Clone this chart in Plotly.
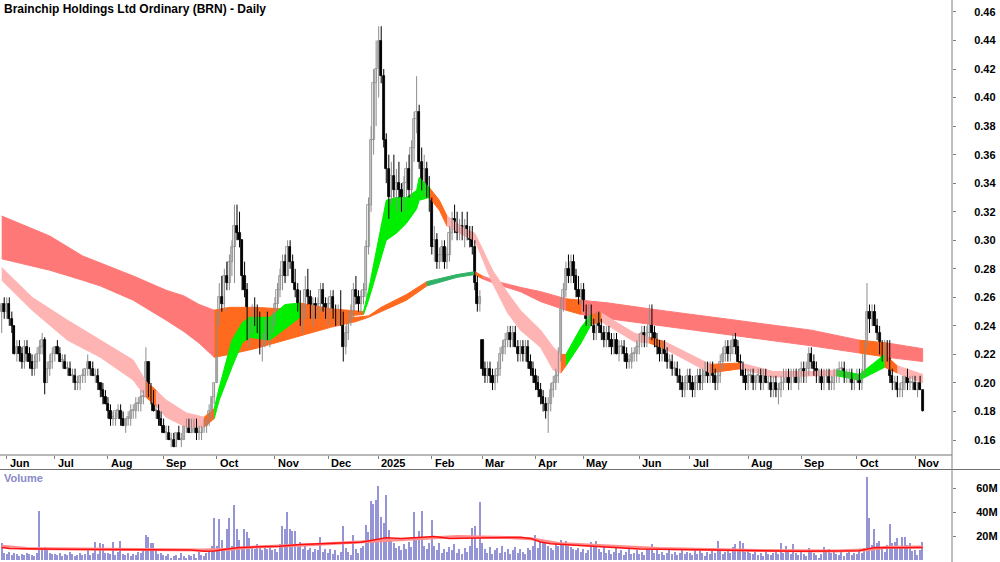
import numpy as np
import plotly.graph_objects as go

TITLE = "Brainchip Holdings Ltd Ordinary (BRN) - Daily"
MONTH_LABELS = ["Jun", "Jul", "Aug", "Sep", "Oct", "Nov", "Dec", "2025", "Feb", "Mar",
                "Apr", "May", "Jun", "Jul", "Aug", "Sep", "Oct", "Nov"]
# trading bars per month (first entry = last bars of May 2024)
MONTH_DAYS = [2, 19, 21, 22, 21, 23, 21, 20, 21, 20, 21, 19, 22, 20, 23, 21, 22, 23, 4]
PRICE_TICKS = [0.16, 0.18, 0.20, 0.22, 0.24, 0.26, 0.28, 0.30, 0.32, 0.34, 0.36, 0.38, 0.40, 0.42, 0.44, 0.46]
VOLUME_TICKS = [20, 40, 60]
VOLUME_TICK_TEXT = ["20M", "40M", "60M"]

# daily bars (open, high, low, close) in cents
may24 = [(25,25.5,23.5,25.5),(25.5,26,24.5,25)]
jun24 = [(25,26,24.5,25.5),(25.5,26,24,24.5),(24.5,25,23.5,24),(24,24,22,22),(22,23,21.5,22.5),
         (22.5,23,21.5,22),(22,22.5,21,21.5),(21.5,23,21,22.5),(22.5,23,21.5,22),(22,22.5,21,21.5),
         (21.5,22,20.5,21),(21,22,20.5,21.5),(21.5,22.5,21,22),(22,23,21.5,22.5),(22.5,23.5,22,23),
         (23,23.2,19.2,20),(20,21.5,20,21),(21,22,20.5,21.5),(21.5,22.5,21,22)]
jul24 = [(22,22.5,21.5,22.5),(22.5,23,22,22),(22,22.5,21.5,21.5),(21.5,22,21,21.5),(21.5,22,21,21),
         (21,21.5,20.5,21),(21,21.5,20.5,20.5),(20.5,21,20,20.5),(20.5,21,19.5,20),(20,20.5,19.5,20),
         (20,20.5,19.5,20.5),(20.5,21,20,20.5),(20.5,21,20,21),(21,22,20.5,21.5),(21.5,21.5,20.5,21),
         (21,21.5,20.5,20.5),(20.5,21,20,20.5),(20.5,21,19.5,20),(20,20,19,19.5),(19.5,20,18.5,19),
         (19,19.5,18.5,18.5)]
aug24 = [(18.5,19,17.5,18),(18,18.5,17,17.5),(17.5,18,17,17.5),(17.5,18,17,18),(18,18.5,17.5,18),
         (18,18.5,17,17.5),(17.5,18,17,17),(17,17.5,16.5,17.5),(17.5,18,17,17.5),(17.5,18.5,17,18),
         (18,18.5,17.5,18),(18,19,17.5,18.5),(18.5,19,18,18.5),(18.5,19.5,18,19),(19,19.5,18.5,19),
         (19,22.5,19,21.5),(21.5,21.5,19,19.5),(19.5,20,18.5,19),(19,19.5,18,18),(18,18.5,17.5,18),
         (18,18.5,17,17.5),(17.5,18,17,17)]
sep24 = [(17,17.5,16.5,16.5),(16.5,17,16,16.5),(16.5,17,16,16),(16,16.5,15.5,16),(16,16.5,15.5,15.5),
         (15.5,16.5,15.5,16.5),(16.5,17,16,16),(16,16.5,15.5,16),(16,17,16,17),(17,17.5,16.5,17),
         (17,17.5,16.5,16.5),(16.5,17.5,16.5,17),(17,17.5,16.5,17),(17,17.5,16,16.5),(16.5,17,16,16.5),
         (16.5,17,16,17),(17,17.5,16.5,17),(17,17.5,16.5,17.5),(17.5,18.5,17,18),(18,19,17.5,19),
         (19,20,18.5,20)]
oct24 = [(20,25,20,24.5),(24.5,27,24,26),(26,27.5,25,25.5),(25.5,28,25,27.5),(27.5,28.5,26.5,27),
         (27,29,26.5,28.5),(28.5,30,27.5,29.5),(29.5,32.5,27,31),(31,32.5,30,30.5),(30.5,32,29.5,30),
         (30,30,26.5,27.5),(27.5,28.5,26,26.5),(26.5,27,23,23.5),(23.5,24.5,22.5,24),(24,25.5,23.5,25),
         (25,26,24,24.5),(24.5,25.5,23.5,24),(24,25,22,22.5),(22.5,23.5,21.5,23),(23,24.5,22.5,24),
         (24,25,23,23.5),(23.5,24.5,22.5,24),(24,25,23.5,24.5)]
nov24 = [(24.5,26,24,25.5),(25.5,27,25,26.5),(26.5,28,26,27.5),(27.5,29,26.5,28.5),(28.5,29,27,27.5),
         (27.5,30,27.5,29.5),(29.5,30,28,28.5),(28.5,29,27,27),(27,28,26,26.5),(26.5,27,25,25.5),
         (25.5,26.5,24,24.5),(24.5,25.5,23.5,25),(25,27.5,24.5,26.5),(26.5,28,25.5,26),(26,26.5,24.5,25),
         (25,26,24,25.5),(25.5,26,24.5,25),(25,26,24.5,25.5),(25.5,27,25,26.5),(26.5,27,25,25.5),
         (25.5,26,24.5,25)]
dec24 = [(25,26,24,25.5),(25.5,26.5,25,26),(26,26.5,24.5,25),(25,25.5,24,24.5),(24.5,25.5,24,25),
         (25,26.5,24,24.5),(24.5,25,21.5,22.5),(22.5,24,22,23.5),(23.5,25,23,24.5),(24.5,25.5,24,25),
         (25,27,24.5,26.5),(26.5,27.5,25.5,26),(26,26.5,25,25.5),(25.5,26.5,25,26),(26,27,25.5,26.5),
         (26.5,30,26,29.5),(29.5,33,29,32.5),(32.5,38,32,37),(37,42,36,41),(41,44,38,42)]
jan25 = [(42,45,40,44),(44,45,41,41.5),(41.5,42,36.5,37),(37,37.5,34,35),(35,36,31.5,33),
         (33,35.5,32.5,34.5),(34.5,36,33,33.5),(33.5,35,32,34),(34,35.5,33,33.5),(33.5,34,32,32.5),
         (32.5,34.5,32,34),(34,35.5,33,35),(35,36,33,33.5),(33.5,37,33,36.5),(36.5,39,35.5,38.5),
         (38.5,41.5,37.5,39),(39,39.5,35,35.5),(35.5,36.5,33.5,34),(34,36,33,35),(35,35.5,33,33.5),
         (33.5,34.5,32,33)]
feb25 = [(33,33,29,29.5),(29.5,31,28.5,30),(30,30.5,28,28.5),(28.5,29.5,28,29),(29,30,28.5,29.5),
         (29.5,30,28,28.5),(28.5,29.5,28,29),(29,31,28.5,30.5),(30.5,32,30,31.5),(31.5,32.5,30.5,31),
         (31,32,30,30.5),(30.5,31.5,30,31),(31,32,30,30.5),(30.5,31.5,29.5,31),(31,32,30,30.5),
         (30.5,31,29.5,30),(30,31,29,29.5),(29.5,30,26.5,27),(27,27.5,25,25.5),(25.5,26.5,25,26)]
mar25 = [(23,23,20.5,21),(21,21.5,20,20.5),(20.5,21.5,20,21),(21,21.5,20,20.5),(20.5,21,19.5,20),
         (20,21,19.5,20.5),(20.5,21.5,20,21),(21,22.5,20.5,22),(22,23,21.5,22.5),(22.5,23.5,22,23),
         (23,24,22.5,23.5),(23.5,24,22.5,23),(23,24,22.5,23.5),(23.5,24,22.5,22.5),(22.5,23,21.5,22),
         (22,23,21.5,22.5),(22.5,23,21.5,22),(22,23,21.5,22.5),(22.5,23,21,21.5),(21.5,22,20.5,21),
         (21,21.5,20,20.5)]
apr25 = [(20.5,21,19.5,20),(20,20.5,19,19.5),(19.5,20,18.5,19),(19,19.5,18,18.5),(18.5,19,17.5,18),
         (18,19,16.5,18.5),(18.5,20,18,19.5),(19.5,20.5,19,20),(20,21,19.5,20.5),(20.5,22.5,20,22),
         (22,26,21.5,25.5),(25.5,27,25,26.5),(26.5,28.5,26,28),(28,29,27,27.5),(27.5,29,27,28.5),
         (28.5,29,27,27.5),(27.5,28,26,26.5),(26.5,27.5,25.5,26),(26,27,25.5,26.5)]
may25 = [(26.5,27,25,25),(25,25.5,24,24.5),(24.5,25.5,24,25),(25,25.5,24,24),(24,24.5,23,23.5),
         (23.5,25,23,24.5),(24.5,25,23.5,24),(24,24.5,23,23.5),(23.5,24,22.5,23),(23,24,22.5,23.5),
         (23.5,24,22.5,23),(23,23.5,22,22.5),(22.5,23.5,22,23),(23,23.5,22,22),(22,23,21.5,22.5),
         (22.5,23,22,22.5),(22.5,23,21.5,22),(22,22.5,21,21.5),(21.5,22,21,21.5),(21.5,22.5,21,22),
         (22,22.5,21.5,22),(22,23,21.5,22.5)]
jun25 = [(22.5,23.5,22,23),(23,24,22.5,23.5),(23.5,24,22.5,23),(23,24,22.5,23.5),(23.5,25.5,23,24.5),
         (24.5,25.5,23,23.5),(23.5,24,22.5,23),(23,23.5,22,22.5),(22.5,23,21.5,22),(22,23,21.5,22.5),
         (22.5,23,21.5,22),(22,22.5,21,21.5),(21.5,22,21,21.5),(21.5,22,20.5,21),(21,21.5,20.5,21),
         (21,21.5,20,20.5),(20.5,21,19.5,20),(20,20.5,19,19.5),(19.5,20.5,19,20),(20,21,19.5,20.5)]
jul25 = [(20.5,21,19.5,20),(20,20.5,19,19.5),(19.5,20.5,19,20),(20,21,19.5,20.5),(20.5,21,19.5,20),
         (20,21,19.5,20.5),(20.5,21.5,20,21),(21,21.5,20,20.5),(20.5,21.5,20,21),(21,21.5,20,20.5),
         (20.5,21,19.5,20),(20,21,19.5,20.5),(20.5,22,20,21.5),(21.5,22.5,21,22),(22,23,21.5,22.5),
         (22.5,23,21.5,22),(22,23,21.5,22.5),(22.5,23.5,22,23),(23,23.5,22,22.5),(22.5,23,21.5,21.5),
         (21.5,22,20.5,21),(21,21.5,20,20.5),(20.5,21,19.5,20)]
aug25 = [(20,21,19.5,20.5),(20.5,21,20,20.5),(20.5,21,19.5,20),(20,20.5,19.5,20.5),(20.5,21,20,20.5),
         (20.5,21,19.5,20),(20,21,19.5,20.5),(20.5,21,20,20),(20,20.5,19.5,20),(20,20.5,19,19.5),
         (19.5,20.5,19,20),(20,20.5,19,19.5),(19.5,20,18.5,19.5),(19.5,20.5,19,20),(20,21,19.5,20.5),
         (20.5,21,20,20.5),(20.5,21,19.5,20),(20,21,19.5,20.5),(20.5,21,20,20.5),(20.5,21,20,20),
         (20,21,19.5,20.5)]
sep25 = [(20.5,21.5,20,21),(21,21.5,20,20.5),(20.5,21.5,20,21),(21,22.5,20.5,22),(22,22.5,21,21.5),
         (21.5,22,20.5,21),(21,21.5,20,20.5),(20.5,21,20,20.5),(20.5,21,19.5,20),(20,21,19.5,20.5),
         (20.5,21,20,20.5),(20.5,21,19.5,20),(20,20.5,19.5,20),(20,21,19.5,20.5),(20.5,21,20,20.5),
         (20.5,21.5,20,21),(21,21.5,20.5,21),(21,21.5,20,20.5),(20.5,21,20,20.5),(20.5,21,20,20.5),
         (20.5,21,19.5,20),(20,20.5,19.5,20.5)]
oct25 = [(20.5,21,20,20.5),(20.5,21,19.5,20),(20,21,19.5,20.5),(20.5,23,20.5,22.5),(22.5,27,22.5,25),
         (25,25.5,23.5,24.5),(24.5,25.5,24,25),(25,25.5,24,24),(24,24.5,23,23.5),(23.5,24,22,22.5),
         (22.5,23,21.5,22),(22,23,21.5,22.5),(22.5,23,21.5,22),(22,23,20,20.5),(20.5,21,19.5,20),
         (20,20.5,19.5,20),(20,20.5,19,19.5),(19.5,20,19,19.5),(19.5,20.5,19,20),(20,20.5,19.5,20.5),
         (20.5,21,19.5,20),(20,20.5,19.5,20),(20,20.5,19.5,20)]
nov25 = [(20,20.5,19.5,19.5),(19.5,20,19,20),(20,20.5,19.5,19.5),(19.5,19.5,18,18)]

# daily volume, millions of shares
vol_may24 = [14, 6]
vol_jun24 = [5,7,4,6,5,3,5,4,6,5,4,3,6,41,8,11,9,6,5]
vol_jul24 = [5,4,6,3,5,4,7,5,3,4,6,4,5,8,4,6,15,5,14,13,6]
vol_aug24 = [6,5,15,4,7,16,5,4,6,3,5,4,7,6,9,21,19,14,14,8,5,6]
vol_sep24 = [4,3,5,2,3,4,2,6,3,2,4,3,5,2,7,4,3,6,8,12,35]
vol_oct24 = [12,34,17,10,26,35,12,46,26,17,10,26,23,18,11,9,13,10,8,12,9,11,8]
vol_nov24 = [9,7,13,28,26,40,26,24,24,11,15,9,12,8,10,7,9,8,19,7,9]
vol_dec24 = [6,9,5,8,4,7,28,10,7,4,21,9,6,10,12,29,23,49,47,50]
vol_jan25 = [62,36,31,54,25,16,14,10,12,8,13,9,15,11,40,18,24,41,12,9,14]
vol_feb25 = [33,12,8,14,6,9,7,11,8,13,6,9,5,10,7,12,27,28,10,48]
vol_mar25 = [14,9,6,11,5,8,10,6,12,7,9,5,8,11,6,9,7,5,10,8,12]
vol_apr25 = [21,10,17,16,17,12,10,8,14,12,17,13,16,12,11,9,8,10,7]
vol_may25 = [9,6,8,15,11,16,9,7,11,6,8,5,7,10,6,8,4,7,9,5,6,8]
vol_jun25 = [5,7,4,9,8,13,6,8,5,7,4,6,8,5,7,4,6,9,5,7]
vol_jul25 = [6,4,8,5,10,6,3,7,5,9,6,16,8,5,7,9,6,11,13,8,16,14,7]
vol_aug25 = [9,6,5,8,4,6,3,7,5,4,6,8,5,14,6,12,7,5,13,6,4]
vol_sep25 = [7,5,3,10,8,6,4,2,5,11,7,9,6,8,5,4,7,3,6,8,4,6]
vol_oct25 = [5,8,6,10,69,35,12.5,26,14,16,9,7,12.5,30,14,15,18,10,19,19,12.5,14,7.5]
vol_nov25 = [8,4,8,15]

# volume moving averages read at bar positions: (bar, millions)
VOL_MA_RED = [(0,10.5),(3,9.6),(23,8.9),(75,8.3),(80,7.2),(84,7.5),(90,9.4),(94,10.5),(102,11),
              (110,11.4),(118,13),(130,13.9),(142,14.7),(148,17),(152,18.6),(158,18),(165,18.6),
              (171,19.5),(177,18),(197,18.6),(205,19),(209,18),(213,15),(217,13.5),(229,12.2),
              (241,11),(252,9.2),(276,8.6),(292,8),(304,7.2),(316,7.2),(339,7.8),(342,9.2),
              (345,10.5),(355,10.3),(364,10.5)]
VOL_MA_PINK = [(0,11.5),(10,9.5),(30,9.2),(80,8.4),(90,9.0),(100,10.8),(120,12.5),(140,14.8),
               (150,16.2),(165,17.5),(180,19.5),(200,18.8),(210,17.5),(220,13.8),(240,11.5),
               (260,9.5),(300,8.0),(330,7.6),(342,8.6),(350,10.6),(364,10.8)]

# moving-average ribbons: (bar, upper, lower, colour of the stretch starting here), cents
LONG_RIBBON = [(0,31.7,28.7,"R"),(19,30.3,27.9,"R"),(32,28.9,27.2,"R"),(39,28.4,26.8,"R"),
               (52,27.5,25.8,"R"),(65,26.5,24.4,"R"),(72,26.1,23.6,"R"),(78,25.5,22.8,"R"),
               (84,25.1,21.8,"O"),(90,25.3,22.0,"O"),(100,25.3,22.4,"O"),(110,25.2,22.9,"O"),
               (120,25.0,23.4,"O"),(130,24.8,23.9,"O"),(140,24.6,24.3,"O"),(145,24.7,24.6,"O"),
               (150,25.3,25.0,"O"),(160,26.2,25.8,"O"),(168,27.1,26.8,"G"),(180,27.6,27.4,"G"),
               (187,27.8,27.6,"O"),(190,27.5,27.3,"R"),(196,27.1,26.9,"R"),(205,26.7,26.4,"R"),
               (213,26.4,25.7,"R"),(223,25.9,25.1,"O"),(229,25.8,24.8,"R"),(240,25.6,24.5,"R"),
               (260,25.1,24.0,"R"),(290,24.4,23.3,"R"),(320,23.7,22.6,"R"),(339,23.0,22.1,"O"),
               (350,22.8,21.8,"R"),(364,22.4,21.5,"R")]
SHORT_RIBBON = [(0,28.1,27.2,"P"),(12,26.0,25.1,"P"),(26,24.4,23.0,"P"),(39,23.0,21.8,"P"),
                (52,21.6,20.2,"P"),(57,20.1,19.0,"O"),(61,19.5,18.4,"P"),(65,18.8,17.6,"P"),
                (73,17.9,16.9,"P"),(80,17.6,16.9,"O"),(84,18.2,17.5,"L"),(86,19.7,18.8,"L"),
                (91,23.0,21.1,"L"),(95,24.2,22.8,"L"),(98,24.6,23.2,"L"),(106,24.6,23.0,"L"),
                (112,25.5,23.8,"L"),(118,25.6,24.6,"O"),(130,25.2,24.6,"O"),(143,25.0,24.8,"L"),
                (145,26.5,25.8,"L"),(152,32.8,30.0,"L"),(156,33.0,30.5,"L"),(160,33.0,31.2,"L"),
                (164,33.5,32.2,"L"),(165,34.4,32.8,"L"),(169,33.7,33.0,"O"),(173,32.8,32.1,"O"),
                (176,31.7,31.0,"P"),(183,30.8,30.3,"P"),(187,30.5,30.0,"P"),(194,27.9,27.0,"P"),
                (200,26.3,24.9,"P"),(205,25.1,23.7,"P"),(213,23.7,22.5,"P"),(218,22.5,20.9,"P"),
                (221,22.0,20.7,"O"),(223,22.0,21.2,"L"),(229,23.9,22.8,"L"),(233,24.8,24.1,"O"),
                (237,24.9,24.3,"P"),(250,23.5,22.9,"P"),(256,23.2,22.8,"O"),(262,22.9,22.4,"P"),
                (280,21.3,20.7,"O"),(292,21.4,21.0,"P"),(305,20.8,20.4,"P"),(320,20.8,20.5,"P"),
                (330,20.9,20.5,"L"),(339,20.6,20.2,"L"),(349,22.0,21.1,"O"),(354,21.2,20.7,"P"),
                (364,20.6,20.0,"P")]
RIBBON_COLOURS = {"R": "#ff7878", "O": "#ff6a1e", "G": "#30b266", "P": "#ffb4b4", "L": "#00ee00"}

# ------------------------------------------------------------------
bars = (may24 + jun24 + jul24 + aug24 + sep24 + oct24 + nov24 + dec24 + jan25 + feb25 + mar25
        + apr25 + may25 + jun25 + jul25 + aug25 + sep25 + oct25 + nov25)
volume = (vol_may24 + vol_jun24 + vol_jul24 + vol_aug24 + vol_sep24 + vol_oct24 + vol_nov24
          + vol_dec24 + vol_jan25 + vol_feb25 + vol_mar25 + vol_apr25 + vol_may25 + vol_jun25
          + vol_jul25 + vol_aug25 + vol_sep25 + vol_oct25 + vol_nov25)

arr = np.array(bars, dtype=float) / 100.0
o, h, l, c = arr[:, 0], arr[:, 1], arr[:, 2], arr[:, 3]
idx = np.arange(len(bars))
vidx = np.arange(len(volume))
month_ticks = list(np.cumsum(MONTH_DAYS)[:-1])

X_RANGE = [-0.67, 375.6]
PRICE_RANGE = [0.1495, 0.4684]
VOL_RANGE = [-1.67, 75]
H = 562.0
PRICE_DOMAIN = [(H - 455) / H, 1.0]
VOL_DOMAIN = [0.0, (H - 470) / H]

fig = go.Figure()


def ribbon(samples):
    out = []
    n = len(samples)
    s = 0
    while s < n - 1:
        col = samples[s][3]
        e = s + 1
        while e < n - 1 and samples[e][3] == col:
            e += 1
        seg = samples[s:e + 1]
        xs = [p[0] for p in seg] + [p[0] for p in reversed(seg)]
        ys = [p[1] / 100 for p in seg] + [p[2] / 100 for p in reversed(seg)]
        colour = RIBBON_COLOURS[col]
        out.append(go.Scatter(x=xs, y=ys, mode="lines", fill="toself", fillcolor=colour,
                              line=dict(color=colour, width=1), hoverinfo="skip",
                              showlegend=False, xaxis="x", yaxis="y"))
        s = e
    return out


for t in ribbon(LONG_RIBBON):
    fig.add_trace(t)
for t in ribbon(SHORT_RIBBON):
    fig.add_trace(t)

up = c >= o
for mask, body_col, edge_col, wick_col in [(up, "#f2f2f2", "#8c8c8c", "#8c8c8c"),
                                           (~up, "#000000", "#000000", "#000000")]:
    wx, wy = [], []
    for i in idx[mask]:
        wx += [i, i, None]
        wy += [l[i], h[i], None]
    fig.add_trace(go.Scatter(x=wx, y=wy, mode="lines", line=dict(color=wick_col, width=1),
                             hoverinfo="skip", showlegend=False, xaxis="x", yaxis="y"))
    fig.add_trace(go.Bar(x=idx[mask], y=np.maximum(np.abs(c - o)[mask], 0.0008),
                         base=np.minimum(o, c)[mask], width=0.9,
                         marker=dict(color=body_col, line=dict(color=edge_col, width=0.8)),
                         hoverinfo="skip", showlegend=False, xaxis="x", yaxis="y"))

fig.add_trace(go.Bar(x=vidx, y=volume, width=0.55,
                     marker=dict(color="#9494d6", line=dict(width=0)),
                     hoverinfo="skip", showlegend=False, xaxis="x2", yaxis="y2"))
fig.add_trace(go.Scatter(x=[p[0] for p in VOL_MA_PINK], y=[p[1] for p in VOL_MA_PINK],
                         mode="lines", line=dict(color="#ff8c8c", width=3),
                         hoverinfo="skip", showlegend=False, xaxis="x2", yaxis="y2"))
fig.add_trace(go.Scatter(x=[p[0] for p in VOL_MA_RED], y=[p[1] for p in VOL_MA_RED],
                         mode="lines", line=dict(color="#ff1010", width=1.5),
                         hoverinfo="skip", showlegend=False, xaxis="x2", yaxis="y2"))

tickfont = dict(family="Liberation Sans, Arial, sans-serif", size=11, color="#000000", weight="bold")

fig.update_layout(
    width=1000, height=562,
    margin=dict(l=0, r=48, t=0, b=0),
    paper_bgcolor="white", plot_bgcolor="white",
    showlegend=False, barmode="overlay", bargap=0,
    xaxis=dict(domain=[0, 1], range=X_RANGE, anchor="y", showgrid=False, zeroline=False,
               tickmode="array", tickvals=month_ticks, ticks="outside", ticklen=3,
               tickcolor="#808080", showticklabels=False, showline=False, fixedrange=True),
    yaxis=dict(domain=PRICE_DOMAIN, range=PRICE_RANGE, side="right", anchor="x",
               showgrid=False, zeroline=False, tickmode="array", tickvals=PRICE_TICKS,
               ticktext=["%.2f" % v for v in PRICE_TICKS], ticks="outside", ticklen=3,
               tickcolor="#808080", showline=False, tickfont=tickfont, ticklabelstandoff=16),
    xaxis2=dict(domain=[0, 1], range=X_RANGE, anchor="y2", matches="x", showgrid=False,
                zeroline=False, showticklabels=False, ticks="", showline=False),
    yaxis2=dict(domain=VOL_DOMAIN, range=VOL_RANGE, side="right", anchor="x2",
                showgrid=False, zeroline=False, tickmode="array", tickvals=VOLUME_TICKS,
                ticktext=VOLUME_TICK_TEXT, ticks="outside", ticklen=3, tickcolor="#808080",
                showline=False, tickfont=tickfont, ticklabelstandoff=18),
)


def py(px):
    return (H - px) / H


shapes = [
    dict(type="line", xref="paper", yref="paper", x0=0, x1=1, y0=py(455), y1=py(455),
         line=dict(color="#a0a0a0", width=1.5)),
    dict(type="line", xref="paper", yref="paper", x0=0, x1=1000 / 952, y0=py(469.5), y1=py(469.5),
         line=dict(color="#707070", width=1)),
    dict(type="line", xref="paper", yref="paper", x0=1, x1=1, y0=0, y1=1,
         line=dict(color="#808080", width=1)),
]
fig.update_layout(shapes=shapes)

annots = [dict(text="<b>%s</b>" % TITLE, xref="paper", yref="paper", x=2 / 952, y=py(9),
               xanchor="left", yanchor="middle", showarrow=False,
               font=dict(family="Liberation Sans, Arial, sans-serif", size=12, color="#000000")),
          dict(text="<b>Volume</b>", xref="paper", yref="paper", x=2 / 952, y=py(478),
               xanchor="left", yanchor="middle", showarrow=False,
               font=dict(family="Liberation Sans, Arial, sans-serif", size=11, color="#8a8ac8"))]
for t, lab in zip(month_ticks, MONTH_LABELS):
    annots.append(dict(text="<b>%s</b>" % lab, xref="x", yref="paper", x=t + 0.3, y=py(463),
                       xanchor="left", yanchor="middle", showarrow=False,
                       font=dict(family="Liberation Sans, Arial, sans-serif", size=11,
                                 color="#000000")))
fig.update_layout(annotations=annots)

fig.write_html("out.html")
